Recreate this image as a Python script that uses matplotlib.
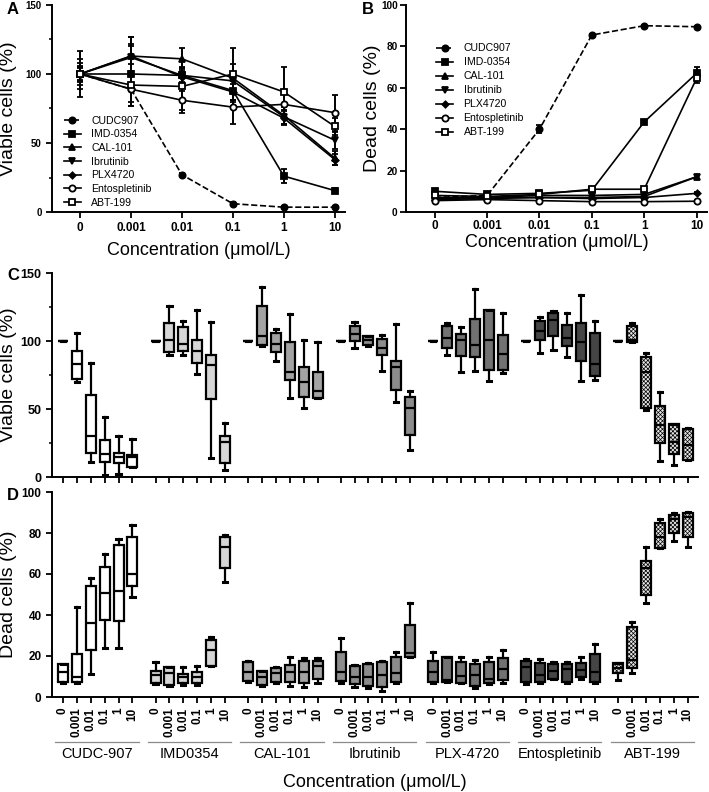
import numpy as np
import matplotlib.pyplot as plt
from matplotlib.lines import Line2D
from matplotlib.ticker import MultipleLocator

plt.rcParams['font.family'] = ['Liberation Sans', 'DejaVu Sans']
plt.rcParams['hatch.linewidth'] = 0.5

W, H = 709, 792

# ---- data ----
conc = ['0', '0.001', '0.01', '0.1', '1', '10']
drugs_ab = ['CUDC907', 'IMD-0354', 'CAL-101', 'Ibrutinib', 'PLX4720', 'Entospletinib', 'ABT-199']
drugs_cd = ['CUDC-907', 'IMD0354', 'CAL-101', 'Ibrutinib', 'PLX-4720', 'Entospletinib', 'ABT-199']

# panel A: viable cells (%) mean and error
viable_mean = [
    [100, 89, 27, 6, 3.5, 3.5],
    [100, 100, 99, 88, 26, 15.5],
    [100, 113, 111, 97, 70, 39],
    [100, 112, 99, 95, 69, 52],
    [100, 113, 98, 87, 68, 38],
    [100, 89, 81, 76, 78, 72],
    [100, 92, 91, 100, 87, 62],
]
viable_err = [
    [1, 1, 1, 1, 0.5, 0.5],
    [4, 20, 6, 8, 5, 2],
    [6, 14, 8, 10, 6, 5],
    [5, 10, 5, 6, 5, 6],
    [8, 14, 6, 6, 5, 4],
    [11, 12, 7, 12, 10, 13],
    [17, 15, 19, 19, 18, 6],
]

# panel B: dead cells (%) mean and error
dead_mean = [
    [7, 8, 40, 85.5, 90, 89.5],
    [10, 8.5, 9, 10.5, 43.5, 67],
    [7, 7, 8, 8, 8.5, 17],
    [6.5, 7, 7, 7, 7.5, 17],
    [6, 6.5, 7, 6.5, 7, 9],
    [5.5, 6, 5.5, 5, 5, 5.2],
    [8, 7.5, 8.5, 11, 11, 64.5],
]
dead_err = [
    [1, 1.5, 2, 0.5, 0.5, 0.5],
    [1, 1, 1, 1, 1, 3],
    [0.5, 0.5, 0.5, 0.5, 0.5, 1],
    [0.5, 0.5, 0.5, 0.5, 0.5, 1],
    [0.5, 0.5, 0.5, 0.5, 0.5, 0.5],
    [0.5, 0.5, 0.5, 0.5, 0.5, 0.5],
    [1, 1, 1, 1, 1, 2],
]

# panel C: viable cells box stats (whislo, q1, med, q3, whishi)
box_viable = [
    [(100, 100, 100, 100, 100), (70, 72, 83, 93, 106), (11, 18, 30, 60, 84),
     (1.5, 11, 17, 27, 44), (2, 10, 14.5, 17.5, 30), (7, 7, 15, 16, 28)],
    [(100, 100, 100, 100, 100), (90, 92, 101, 113, 126), (90, 93, 98, 110, 115),
     (76, 84, 93, 101, 123), (14, 57, 82, 90, 114), (5, 10.5, 25.5, 30, 39.5)],
    [(100, 100, 100, 100, 100), (96, 97, 104, 126, 140), (85, 92, 98, 106, 109),
     (58, 71, 77.5, 99.5, 120), (51, 59, 70, 81, 101), (58, 58, 63.5, 77.5, 99.5)],
    [(100, 100, 100, 100, 100), (95, 100, 105, 111, 114), (96, 97, 100.5, 104, 104),
     (78, 90, 94.5, 101.5, 104.5), (55, 64, 81, 85.5, 112.5), (20, 31, 50.5, 58.5, 63)],
    [(100, 100, 100, 100, 100), (90, 94.5, 102.5, 111, 113.5), (77.5, 89, 100.5, 105.5, 110),
     (78, 88, 97, 116, 138.5), (70.5, 78.5, 101, 122.5, 123), (76.5, 78.5, 90.5, 104.5, 120.5)],
    [(100, 100, 100, 100, 100), (91, 100.5, 107.5, 114.5, 118), (93.5, 103.5, 115.5, 120.5, 122),
     (88.5, 96, 102.5, 112, 120.5), (70.5, 85, 99.5, 113, 134), (71, 74, 83, 106, 115)],
    [(100, 100, 100, 100, 100), (99, 99, 101, 111, 113), (49.5, 51, 77.5, 88, 91.5),
     (12, 25, 38, 52.5, 62.5), (8.5, 17, 25.5, 39, 39), (12.5, 12.5, 23.5, 35, 36)],
]

# panel D: dead cells box stats (whislo, q1, med, q3, whishi)
box_dead = [
    [(7, 7.5, 12.4, 16, 16), (6.7, 7.5, 10, 21, 44), (11, 23, 36, 54, 58),
     (24, 37.5, 50.5, 63.5, 70), (24, 37, 51.5, 74, 77), (49, 54, 60, 78, 84)],
    [(6.5, 7, 10.7, 12.7, 17.2), (5.5, 6, 11.5, 14.5, 14.5), (6, 6.7, 9.6, 11, 14.5),
     (6, 6.7, 9.6, 12, 15), (15, 15, 23, 28, 29.5), (56, 63, 73, 78, 79)],
    [(7.5, 7.8, 12, 17, 17.5), (5.5, 6, 10, 12.8, 12.8), (7, 7.5, 11.5, 14, 14.8),
     (5.5, 7.5, 12, 15.6, 19.4), (4.7, 7, 12.4, 17.6, 19), (7, 8.6, 15, 17.6, 19)],
    [(6.7, 7.8, 12.4, 22, 28.6), (4.7, 6.3, 10, 15, 15.5), (4.2, 5.5, 10, 16, 16.7),
     (3, 5, 10.7, 17.2, 17.7), (7, 7.5, 11.5, 19.4, 21.8), (19.4, 19.7, 21.3, 35, 46)],
    [(7, 7.5, 12.4, 17.7, 21.8), (7.5, 7.5, 8.5, 19.4, 19.4), (7, 7, 10.2, 17.2, 19.4),
     (4.2, 5.5, 10.7, 16, 18), (6.5, 6.7, 9, 17, 19.7), (7, 8.3, 13.5, 19, 23)],
    [(6.3, 7.5, 14.5, 17.7, 18.5), (7, 7.5, 10.7, 16.7, 18.5), (8.6, 9, 12.7, 16, 17),
     (7, 7.5, 13.5, 16, 17.2), (9, 9.6, 13.2, 16.7, 19.4), (7, 7.5, 12, 21, 25.7)],
    [(8.3, 11.5, 14, 16.4, 16.4), (11.5, 14.3, 18, 34.3, 36.7), (45.7, 49.8, 63, 66.5, 73),
     (72.5, 72.5, 78, 85, 87), (76, 80, 87, 89, 89.6), (73.3, 78, 87.7, 90, 90.4)],
]

box_colors = ['white', '#d6d6d6', '#a3a3a3', '#8c8c8c', '#727272', '#454545', '#e6e6e6']
box_hatch = [None, None, None, None, None, None, 'xxxxxxxx']
line_markers = ['o', 's', '^', 'v', 'D', 'o', 's']
marker_faces = ['black', 'black', 'black', 'black', 'black', 'white', 'white']


def px_axes(l, t, r, b):
    return [l / W, 1 - b / H, (r - l) / W, (b - t) / H]


fig = plt.figure(figsize=(W / 100, H / 100), dpi=100)


def style_axes(ax, ytick_size, xtick_size, xpad=3.5, ypad=3.5):
    for s in ['top', 'right']:
        ax.spines[s].set_visible(False)
    for s in ['left', 'bottom']:
        ax.spines[s].set_linewidth(1.4)
    ax.tick_params(axis='both', which='major', direction='out', length=4, width=1.3)
    ax.tick_params(axis='both', which='minor', direction='out', length=2.5, width=1.1)
    ax.tick_params(axis='y', labelsize=ytick_size, pad=ypad)
    ax.tick_params(axis='x', labelsize=xtick_size, pad=xpad)
    for lab in ax.get_yticklabels() + ax.get_xticklabels():
        lab.set_fontweight('bold')


def line_panel(ax, means, errs, ymax, ystep, yminor, ylabel, legend_anchor, spacing):
    x = np.arange(len(conc))
    handles = []
    for i, name in enumerate(drugs_ab):
        ls = '--' if i == 0 else '-'
        ms = 3.2 if line_markers[i] == 'D' else 4.5
        style = dict(color='black', linestyle=ls, linewidth=1.2, marker=line_markers[i],
                     markersize=ms, markerfacecolor=marker_faces[i], markeredgecolor='black',
                     markeredgewidth=1.3)
        ax.errorbar(x, means[i], yerr=errs[i], elinewidth=1.4, capsize=2.2, capthick=1.4,
                    **style)
        handles.append(Line2D([], [], label=name, **style))
    ax.set_xlim(-0.55, 5.2)
    ax.set_ylim(0, ymax)
    ax.set_xticks(x)
    ax.set_xticklabels(conc)
    ax.yaxis.set_major_locator(MultipleLocator(ystep))
    if yminor:
        ax.yaxis.set_minor_locator(MultipleLocator(yminor))
    ax.set_ylabel(ylabel, fontsize=14)
    ax.set_xlabel('Concentration (\u03bcmol/L)', fontsize=13)
    ax.legend(handles=handles, loc='lower left', bbox_to_anchor=legend_anchor, frameon=False,
              fontsize=7.6, handlelength=1.6, handletextpad=1.0, labelspacing=spacing,
              borderpad=0, borderaxespad=0)


# Panel A
axA = fig.add_axes(px_axes(52, 5, 345, 212))
line_panel(axA, viable_mean, viable_err, 150, 50, 25, 'Viable cells (%)', (0.04, 0.02), 0.35)
style_axes(axA, 7, 8.5)
axA.yaxis.set_label_coords(-0.12, 0.5)
axA.xaxis.set_label_coords(0.5, -0.145)

# Panel B
axB = fig.add_axes(px_axes(406, 5, 707, 212))
line_panel(axB, dead_mean, dead_err, 100, 20, None, 'Dead cells (%)', (0.1, 0.36), 0.38)
style_axes(axB, 7.2, 8.5, xpad=1.5, ypad=2)
axB.yaxis.set_label_coords(-0.082, 0.5)
axB.xaxis.set_label_coords(0.5, -0.105)

# box positions
gap = 6.66
positions = [g * gap + c for g in range(len(drugs_cd)) for c in range(len(conc))]


def box_panel(ax, data):
    for g in range(len(drugs_cd)):
        stats = [dict(whislo=s[0], q1=s[1], med=s[2], q3=s[3], whishi=s[4]) for s in data[g]]
        pos = [g * gap + c for c in range(len(conc))]
        bp = ax.bxp(stats, positions=pos, widths=0.72, showfliers=False, patch_artist=True,
                    boxprops=dict(facecolor=box_colors[g], edgecolor='black', linewidth=1.6),
                    medianprops=dict(color='black', linewidth=1.6),
                    whiskerprops=dict(color='black', linewidth=1.6),
                    capprops=dict(color='black', linewidth=2.2), capwidths=0.3)
        if box_hatch[g]:
            for b in bp['boxes']:
                b.set_hatch(box_hatch[g])
    ax.set_xlim(-0.79, 45.7)
    ax.set_xticks(positions)


# Panel C
axC = fig.add_axes(px_axes(52, 273, 698, 477))
box_panel(axC, box_viable)
axC.set_ylim(0, 150)
axC.yaxis.set_major_locator(MultipleLocator(50))
axC.yaxis.set_minor_locator(MultipleLocator(25))
axC.set_xticklabels([])
axC.set_ylabel('Viable cells (%)', fontsize=14)
style_axes(axC, 9, 8.5)
axC.yaxis.set_label_coords(-0.054, 0.5)

# Panel D
axD = fig.add_axes(px_axes(52, 492, 698, 697))
box_panel(axD, box_dead)
axD.set_ylim(0, 100)
axD.yaxis.set_major_locator(MultipleLocator(20))
axD.set_xticklabels(conc * len(drugs_cd), rotation=90, va='top')
axD.set_ylabel('Dead cells (%)', fontsize=14)
style_axes(axD, 8.5, 8.5)
axD.yaxis.set_label_coords(-0.054, 0.5)

trans = axD.get_xaxis_transform()
for g, name in enumerate(drugs_cd):
    x0 = g * gap - 0.55
    x1 = g * gap + 5 + 0.45
    axD.plot([x0, x1], [-0.22, -0.22], color='#8a8a8a', linewidth=0.9, transform=trans,
             clip_on=False)
    axD.text((x0 + x1) / 2, -0.278, name, transform=trans, ha='center', va='center',
             fontsize=10.5)
axD.text(0.5, -0.415, 'Concentration (\u03bcmol/L)', transform=axD.transAxes, ha='center',
         va='center', fontsize=13)

# panel letters
for lab, (x, y) in zip('ABCD', [(7, 9), (362, 9), (7, 276), (7, 495)]):
    fig.text(x / W, 1 - y / H, lab, fontsize=12, fontweight='bold', ha='left', va='center')

fig.savefig('out.png', dpi=100)
